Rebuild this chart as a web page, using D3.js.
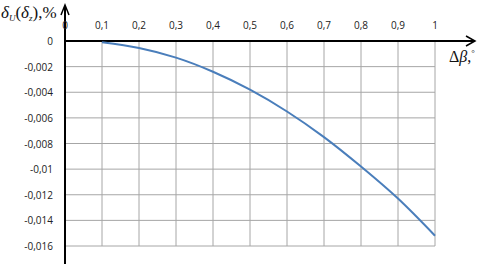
<!DOCTYPE html>
<html><head><meta charset="utf-8">
<script src="https://cdn.jsdelivr.net/npm/d3@7"></script>
<style>body{margin:0;background:#fff}svg{display:block}</style>
</head><body>
<script>
const xValues = [0.1,0.2,0.3,0.4,0.5,0.6,0.7,0.8,0.9,1.0];
const yValues = [-0.0001,-0.00055,-0.0013,-0.0024,-0.0038,-0.0055,-0.0075,-0.0098,-0.0123,-0.0152];
const xTicks = [0,0.1,0.2,0.3,0.4,0.5,0.6,0.7,0.8,0.9,1];
const yTicks = [0,-0.002,-0.004,-0.006,-0.008,-0.01,-0.012,-0.014,-0.016];

const W=481,H=267;
const svg=d3.select("body").append("svg").attr("width",W).attr("height",H);
const x=d3.scaleLinear().domain([0,1]).range([65,435]);
const y=d3.scaleLinear().domain([0,-0.016]).range([41,246]);
const fmt=v=>String(v).replace(".",",");

// grid
svg.append("g").selectAll("line").data(xTicks.filter(d=>d>0)).join("line")
  .attr("x1",d=>x(d)).attr("x2",d=>x(d)).attr("y1",y(0)).attr("y2",y(-0.016))
  .attr("stroke","#a6a6a6").attr("stroke-width",1);
svg.append("g").selectAll("line").data(yTicks.filter(d=>d<0)).join("line")
  .attr("x1",x(0)).attr("x2",x(1)).attr("y1",d=>y(d)).attr("y2",d=>y(d))
  .attr("stroke","#a6a6a6").attr("stroke-width",1);

// axes
const ax=svg.append("g");
ax.append("line").attr("x1",x(0)).attr("x2",474).attr("y1",y(0)).attr("y2",y(0)).attr("stroke","#000").attr("stroke-width",2);
ax.append("path").attr("d",`M466,${y(0)-5}L475,${y(0)}L466,${y(0)+5}`).attr("fill","none").attr("stroke","#000").attr("stroke-width",1.5);
ax.append("line").attr("x1",x(0)).attr("x2",x(0)).attr("y1",6).attr("y2",264).attr("stroke","#000").attr("stroke-width",2);
ax.append("path").attr("d",`M${x(0)-4},15L${x(0)},5L${x(0)+4},15`).attr("fill","none").attr("stroke","#000").attr("stroke-width",1.5);

// ticks labels
svg.append("g").selectAll("text").data(xTicks).join("text")
  .attr("x",d=>x(d)).attr("y",29).attr("text-anchor","middle")
  .attr("font-family","Open Sans, sans-serif").attr("font-size",10).attr("fill","#222")
  .text(fmt);
svg.append("g").selectAll("text").data(yTicks).join("text")
  .attr("x",53).attr("y",d=>y(d)+4).attr("text-anchor","end")
  .attr("font-family","Open Sans, sans-serif").attr("font-size",10).attr("fill","#222")
  .text(fmt);

// curve
svg.append("path").datum(xValues.map((v,i)=>[v,yValues[i]]))
  .attr("d",d3.line().x(d=>x(d[0])).y(d=>y(d[1])).curve(d3.curveCatmullRom))
  .attr("fill","none").attr("stroke","#4a7ebb").attr("stroke-width",2);

// titles
const t=svg.append("text").attr("x",1).attr("y",18).attr("font-family","Liberation Serif, serif").attr("font-size",17).attr("fill","#111");
t.append("tspan").attr("font-style","italic").text("δ");
t.append("tspan").attr("font-style","italic").attr("font-size",9).attr("dy",3).text("U");
t.append("tspan").attr("dy",-3).text("(");
t.append("tspan").attr("font-style","italic").text("δ");
t.append("tspan").attr("font-style","italic").attr("font-size",9).attr("dy",3).text("z");
t.append("tspan").attr("dy",-3).text("),%");

const t2=svg.append("text").attr("x",449).attr("y",62).attr("font-family","Liberation Serif, serif").attr("font-size",16).attr("fill","#111");
t2.append("tspan").text("Δ");
t2.append("tspan").attr("font-style","italic").text("β");
t2.append("tspan").text(",");
t2.append("tspan").attr("font-size",9).attr("dy",-6).text("°");
</script>
</body></html>
